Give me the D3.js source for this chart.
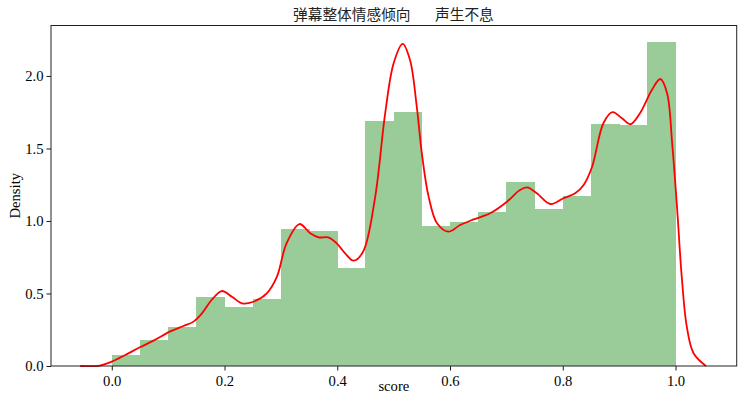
<!DOCTYPE html>
<html>
<head>
<meta charset="utf-8">
<script src="https://cdn.jsdelivr.net/npm/d3@7"></script>
<style>
  html, body { margin: 0; padding: 0; background: #fff; }
  svg { display: block; }
</style>
</head>
<body>
<div id="chart"></div>
<script>
// ---- data ----
const binEdges = d3.range(0, 20).map(i => i * 0.05);
const binWidth = 0.05;
const density = [0.076, 0.179, 0.267, 0.478, 0.409, 0.464, 0.943, 0.931, 0.678, 1.690,
                 1.752, 0.968, 0.993, 1.064, 1.267, 1.081, 1.172, 1.671, 1.660, 2.236];
const kdeX = [-0.056, -0.021, 0.000, 0.024, 0.050, 0.074, 0.103, 0.127, 0.145, 0.160,
              0.177, 0.195, 0.213, 0.231, 0.251, 0.275, 0.293, 0.310, 0.333, 0.352,
              0.367, 0.384, 0.399, 0.414, 0.429, 0.446, 0.467, 0.485, 0.500, 0.516,
              0.529, 0.541, 0.550, 0.562, 0.577, 0.597, 0.618, 0.642, 0.671, 0.701,
              0.724, 0.737, 0.754, 0.778, 0.801, 0.822, 0.837, 0.852, 0.872, 0.888,
              0.905, 0.920, 0.937, 0.958, 0.973, 0.985, 0.994, 1.003, 1.011, 1.020,
              1.032, 1.054];
const kdeY = [0.000, 0.003, 0.030, 0.076, 0.129, 0.175, 0.237, 0.276, 0.306, 0.363,
              0.455, 0.517, 0.478, 0.432, 0.443, 0.501, 0.616, 0.846, 0.979, 0.915,
              0.887, 0.887, 0.846, 0.777, 0.726, 0.790, 1.160, 1.743, 2.088, 2.221,
              2.110, 1.788, 1.467, 1.168, 0.984, 0.926, 0.972, 1.011, 1.053, 1.133,
              1.214, 1.232, 1.191, 1.117, 1.157, 1.191, 1.248, 1.374, 1.674, 1.750,
              1.708, 1.667, 1.743, 1.903, 1.979, 1.881, 1.536, 1.076, 0.616, 0.271,
              0.088, 0.000];
const xTicks = [0.0, 0.2, 0.4, 0.6, 0.8, 1.0];
const yTicks = [0.0, 0.5, 1.0, 1.5, 2.0];
const titleLeft = "弹幕整体情感倾向";
const titleRight = "声生不息";
const xLabel = "score";
const yLabel = "Density";

// ---- layout ----
const W = 753, H = 396;
const L = 51, R = 736.7, T = 25.5, B = 366;

const svg = d3.select("#chart").append("svg")
  .attr("width", W).attr("height", H);

const x = d3.scaleLinear().domain([-0.1078, 1.1085]).range([L, R]);
const y = d3.scaleLinear().domain([0, 2.348]).range([B, T]);

// bars
svg.append("g").attr("shape-rendering", "crispEdges").selectAll("rect")
  .data(density)
  .join("rect")
  .attr("x", (d, i) => x(binEdges[i]))
  .attr("width", (d, i) => x(binEdges[i] + binWidth) - x(binEdges[i]) + 0.5)
  .attr("y", d => y(d))
  .attr("height", d => y(0) - y(d))
  .attr("fill", "rgb(153,204,153)");

// kde line
const pts = kdeX.map((v, i) => [v, kdeY[i]]);
svg.append("path")
  .datum(pts)
  .attr("fill", "none")
  .attr("stroke", "#ff0000")
  .attr("stroke-width", 1.8)
  .attr("d", d3.line().x(d => x(d[0])).y(d => y(d[1])).curve(d3.curveCatmullRom.alpha(0.5)));

const font = "'Liberation Serif', 'Times New Roman', serif";

// axes
const xAxis = svg.append("g")
  .attr("transform", `translate(0,${B})`)
  .call(d3.axisBottom(x).tickValues(xTicks).tickFormat(d3.format(".1f")).tickSize(4.5).tickPadding(3));
const yAxis = svg.append("g")
  .attr("transform", `translate(${L},0)`)
  .call(d3.axisLeft(y).tickValues(yTicks).tickFormat(d3.format(".1f")).tickSize(4.5).tickPadding(3));
[xAxis, yAxis].forEach(g => {
  g.select(".domain").remove();
  g.selectAll("text").attr("font-family", font).attr("font-size", "14.67px").attr("fill", "#000");
  g.selectAll("line").attr("stroke", "#000").attr("stroke-width", 0.9);
});
xAxis.selectAll("text").attr("dy", "0.85em");

// spines
svg.append("rect")
  .attr("x", L).attr("y", T)
  .attr("width", R - L).attr("height", B - T)
  .attr("fill", "none").attr("stroke", "#222").attr("stroke-width", 1);

// labels
svg.append("text")
  .attr("x", (L + R) / 2).attr("y", 391)
  .attr("text-anchor", "middle")
  .attr("font-family", font).attr("font-size", "14.67px")
  .text(xLabel);
svg.append("text")
  .attr("transform", `translate(20,${(T + B) / 2}) rotate(-90)`)
  .attr("text-anchor", "middle")
  .attr("font-family", font).attr("font-size", "14.67px")
  .text(yLabel);

// title
const tfont = "'Noto Sans CJK SC', sans-serif";
svg.append("text")
  .attr("x", 293).attr("y", 20)
  .attr("font-family", tfont).attr("font-size", "14.7px").attr("fill", "#222")
  .text(titleLeft);
svg.append("text")
  .attr("x", 435).attr("y", 20)
  .attr("font-family", tfont).attr("font-size", "14.7px").attr("fill", "#222")
  .text(titleRight);
</script>
</body>
</html>
